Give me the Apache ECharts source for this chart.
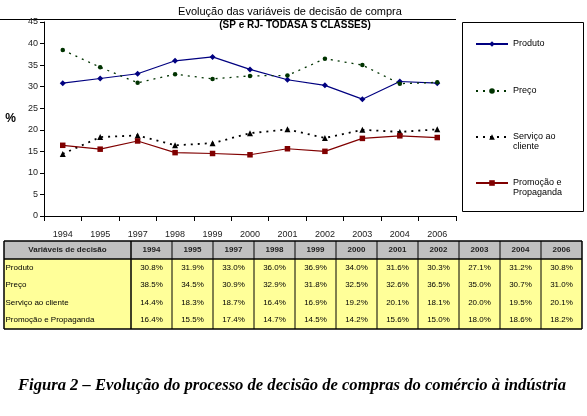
<!DOCTYPE html>
<html>
<head>
<meta charset="utf-8">
<script src="https://cdn.jsdelivr.net/npm/echarts@6/dist/echarts.min.js"></script>
<style>
html,body{margin:0;padding:0;background:#fff;}
#c{width:587px;height:416px;}
</style>
</head>
<body>
<div id="c"></div>
<script>
const years = ['1994','1995','1997','1998','1999','2000','2001','2002','2003','2004','2006'];
const produto = [30.8,31.9,33.0,36.0,36.9,34.0,31.6,30.3,27.1,31.2,30.8];
const preco = [38.5,34.5,30.9,32.9,31.8,32.5,32.6,36.5,35.0,30.7,31.0];
const servico = [14.4,18.3,18.7,16.4,16.9,19.2,20.1,18.1,20.0,19.5,20.1];
const promocao = [16.4,15.5,17.4,14.7,14.5,14.2,15.6,15.0,18.0,18.6,18.2];
const seriesNames = ['Produto','Preço','Serviço ao cliente','Promoção e Propaganda'];
const legendLabels = ['Produto','Preço','\u00a0\nServiço ao\ncliente','\u00a0\nPromoção e\nPropaganda'];
const tableHeader = 'Variáveis de decisão';
const titleText = 'Evolução das variáveis de decisão de compra';
const subtitleText = '(SP e RJ- TODASA S CLASSES)';
const captionText = 'Figura 2 – Evolução do processo de decisão de compras do comércio à indústria';

const FONT = '"Liberation Sans", Arial, sans-serif';
const chart = echarts.init(document.getElementById('c'), null, {renderer:'canvas'});

// table graphics
const tb = {left:4, right:582, top:241, headH:18, rowH:17.5, firstW:127};
const rows = [produto, preco, servico, promocao];
const colW = (tb.right - tb.left - tb.firstW) / years.length;
const bottom = tb.top + tb.headH + rows.length * tb.rowH;
const g = [];
g.push({type:'rect', shape:{x:tb.left, y:tb.top, width:tb.right-tb.left, height:tb.headH}, style:{fill:'#c0c0c0'}});
g.push({type:'rect', shape:{x:tb.left, y:tb.top+tb.headH, width:tb.right-tb.left, height:bottom-tb.top-tb.headH}, style:{fill:'#ffff99'}});
const xs = [tb.left, tb.left+tb.firstW];
for (let i=1;i<=years.length;i++) xs.push(tb.left+tb.firstW+i*colW);
xs.forEach((x,i)=>{
  g.push({type:'line', shape:{x1:x,y1:tb.top,x2:x,y2:bottom}, style:{stroke:'#000', lineWidth:(i===0||i===1||i===xs.length-1)?1.5:1}});
});
[tb.top, tb.top+tb.headH, bottom].forEach((y)=>{
  g.push({type:'line', shape:{x1:tb.left,y1:y,x2:tb.right,y2:y}, style:{stroke:'#000', lineWidth:1.5}});
});
g.push({type:'text', x:tb.left+tb.firstW/2, y:tb.top+tb.headH/2, style:{text:tableHeader, font:'bold 8px '+FONT, fill:'#222', align:'center', verticalAlign:'middle'}});
years.forEach((yr,i)=>{
  g.push({type:'text', x:tb.left+tb.firstW+(i+0.5)*colW, y:tb.top+tb.headH/2, style:{text:yr, font:'bold 8px '+FONT, fill:'#222', align:'center', verticalAlign:'middle'}});
});
rows.forEach((arr,r)=>{
  const cy = tb.top+tb.headH+(r+0.5)*tb.rowH;
  g.push({type:'text', x:tb.left+1.5, y:cy, style:{text:seriesNames[r], font:'8px '+FONT, fill:'#000', align:'left', verticalAlign:'middle'}});
  arr.forEach((v,i)=>{
    g.push({type:'text', x:tb.left+tb.firstW+(i+0.5)*colW, y:cy, style:{text:v.toFixed(1)+'%', font:'8px '+FONT, fill:'#000', align:'center', verticalAlign:'middle'}});
  });
});
g.push({type:'line', shape:{x1:0,y1:19.5,x2:456,y2:19.5}, style:{stroke:'#000', lineWidth:1}});
g.push({type:'text', x:290, y:12, style:{text:titleText, font:'11px '+FONT, fill:'#000', align:'center', verticalAlign:'middle'}});
g.push({type:'text', x:295, y:25.5, style:{text:subtitleText, font:'bold 10px '+FONT, fill:'#000', align:'center', verticalAlign:'middle'}});
g.push({type:'rect', shape:{x:462.5, y:22.5, width:121, height:189}, style:{fill:'none', stroke:'#000', lineWidth:1}});
g.push({type:'text', x:292, y:386, style:{text:captionText, font:'italic bold 16.6px "Liberation Serif", "Times New Roman", serif', fill:'#000', align:'center', verticalAlign:'middle'}});

const legendTops = [39, 86, 122, 168];
const legends = seriesNames.map((n,i)=>({
  orient:'vertical', left:475, top:legendTops[i], itemWidth:32, itemHeight:7, padding:0,
  data:[n],
  formatter:()=>legendLabels[i],
  textStyle:{fontFamily:FONT, fontSize:9, color:'#000', lineHeight:10}
}));

const option = {
  animation:false,
  backgroundColor:'#fff',
  grid:{left:44, right:131, top:22, bottom:200},
  legend:legends,
  xAxis:{
    type:'category', data:years, boundaryGap:true,
    axisLine:{lineStyle:{color:'#000', width:1}},
    axisTick:{show:true, length:5, lineStyle:{color:'#000'}},
    axisLabel:{fontFamily:FONT, fontSize:9, color:'#222', margin:14}
  },
  yAxis:{
    type:'value', min:0, max:45, interval:5,
    name:'%', nameLocation:'middle', nameRotate:0, nameGap:28,
    nameTextStyle:{fontFamily:FONT, fontSize:12, fontWeight:'bold', color:'#000'},
    axisLine:{show:true, lineStyle:{color:'#000', width:1}},
    axisTick:{show:true, length:4, lineStyle:{color:'#000'}},
    splitLine:{show:false},
    axisLabel:{fontFamily:FONT, fontSize:9, color:'#222', margin:6}
  },
  series:[
    {name:seriesNames[0], type:'line', data:produto, symbol:'diamond', symbolSize:6,
      lineStyle:{color:'#000080', width:1.2}, itemStyle:{color:'#000080'}},
    {name:seriesNames[1], type:'line', data:preco, symbol:'circle', symbolSize:4.5,
      lineStyle:{color:'#003300', width:1.3, type:[2,5]}, itemStyle:{color:'#003300'}},
    {name:seriesNames[2], type:'line', data:servico, symbol:'triangle', symbolSize:6,
      lineStyle:{color:'#000000', width:1.8, type:[2,5]}, itemStyle:{color:'#000000'}},
    {name:seriesNames[3], type:'line', data:promocao, symbol:'rect', symbolSize:5.5,
      lineStyle:{color:'#800000', width:1.2}, itemStyle:{color:'#800000'}}
  ],
  graphic:g
};
chart.setOption(option);
</script>
</body>
</html>
